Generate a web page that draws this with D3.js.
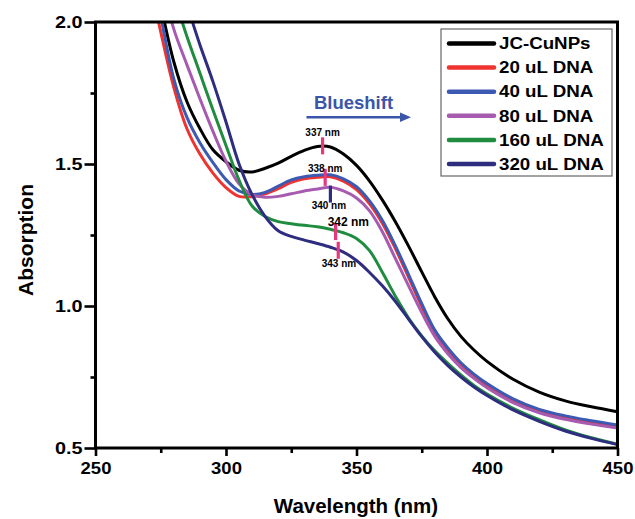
<!DOCTYPE html>
<html><head><meta charset="utf-8">
<script src="https://cdn.jsdelivr.net/npm/d3@7"></script>
<style>
body{margin:0;background:#fff}
svg text{font-family:"Liberation Sans",Arial,Helvetica,sans-serif;font-weight:bold;fill:#000}
</style>
</head><body>
<svg id="chart" width="635" height="519"></svg>
<script>
// ---------- data ----------
const wavelengths = [270,275,280,285,290,295,300,305,310,315,320,325,330,335,340,345,350,355,360,365,370,375,380,385,390,395,400,410,420,430,440,450];
const jcCuNPs  = [2.28,2.06,1.86,1.72,1.625,1.55,1.508,1.478,1.472,1.485,1.503,1.527,1.548,1.562,1.560,1.535,1.495,1.44,1.372,1.295,1.21,1.12,1.032,0.955,0.893,0.845,0.805,0.742,0.697,0.666,0.645,0.628];
const dna20    = [2.18,1.965,1.77,1.625,1.535,1.468,1.417,1.386,1.385,1.395,1.413,1.435,1.448,1.453,1.455,1.44,1.41,1.36,1.29,1.20,1.10,0.998,0.905,0.842,0.793,0.753,0.72,0.667,0.63,0.607,0.589,0.575];
const dna40    = [2.25,2.02,1.80,1.665,1.575,1.505,1.445,1.405,1.393,1.40,1.422,1.444,1.455,1.46,1.462,1.448,1.42,1.37,1.30,1.21,1.11,1.008,0.915,0.852,0.80,0.76,0.727,0.673,0.636,0.613,0.596,0.581];
const dna80    = [2.33,2.15,1.975,1.85,1.73,1.615,1.51,1.43,1.392,1.383,1.386,1.395,1.405,1.412,1.418,1.405,1.38,1.335,1.26,1.165,1.07,0.977,0.893,0.832,0.783,0.745,0.712,0.66,0.624,0.601,0.584,0.570];
const dna160   = [2.35,2.22,2.09,1.95,1.82,1.69,1.565,1.443,1.352,1.315,1.297,1.29,1.284,1.279,1.27,1.258,1.238,1.195,1.117,1.033,0.957,0.895,0.842,0.798,0.757,0.72,0.69,0.64,0.60,0.564,0.536,0.513];
const dna320   = [2.45,2.32,2.19,2.06,1.92,1.79,1.648,1.50,1.392,1.315,1.265,1.245,1.232,1.22,1.207,1.19,1.16,1.118,1.07,1.015,0.953,0.892,0.837,0.79,0.75,0.715,0.685,0.634,0.594,0.56,0.534,0.512];
const seriesNames  = ["JC-CuNPs","20 uL DNA","40 uL DNA","80 uL DNA","160 uL DNA","320 uL DNA"];
const seriesValues = [jcCuNPs, dna20, dna40, dna80, dna160, dna320];
const seriesColors = ["#000000","#ee3330","#3d5ab3","#a75bb0","#1f8c3f","#2e2d80"];

const xMajorTicks = [250,300,350,400,450];
const xMinorTicks = [275,325,375,425];
const yMajorTicks = [0.5,1.0,1.5,2.0];
const yMinorTicks = [0.75,1.25,1.75];

const peakLabels      = ["337 nm","338 nm","340 nm","342 nm","343 nm"];
const peakWavelengths = [337,338,340,342,343];
const peakAbsorption  = [1.564,1.453,1.394,1.262,1.196];
const shiftLabel = "Blueshift";

// ---------- layout ----------
const M = {left:95.5, right:617.5, top:22, bottom:448};
const svg = d3.select("#chart");
const x = d3.scaleLinear().domain([250,450]).range([M.left,M.right]);
const y = d3.scaleLinear().domain([0.5,2.0]).range([M.bottom,M.top]);

svg.append("defs").append("clipPath").attr("id","plotclip")
  .append("rect").attr("x",M.left).attr("y",M.top).attr("width",M.right-M.left).attr("height",M.bottom-M.top);

// curves
const line = d3.line().x(d=>x(d[0])).y(d=>y(d[1])).curve(d3.curveCatmullRom.alpha(0.5));
const gLines = svg.append("g").attr("clip-path","url(#plotclip)");
seriesValues.forEach((vals,i)=>{
  gLines.append("path")
    .datum(wavelengths.map((w,j)=>[w,vals[j]]))
    .attr("d",line).attr("fill","none")
    .attr("stroke",seriesColors[i]).attr("stroke-width",3)
    .attr("stroke-linejoin","round");
});

// axes
function styleAxis(g){
  g.select(".domain").remove();
  g.selectAll(".tick line").attr("stroke","#000").attr("stroke-width",2.6);
  g.selectAll(".tick text").style("font-size","16.5px").attr("fill","#000");
}
const gx = svg.append("g").attr("transform",`translate(0,${M.bottom})`)
  .call(d3.axisBottom(x).tickValues(xMajorTicks).tickSize(8).tickPadding(6).tickFormat(d3.format("d")));
styleAxis(gx);
const gxm = svg.append("g").attr("transform",`translate(0,${M.bottom})`)
  .call(d3.axisBottom(x).tickValues(xMinorTicks).tickSize(5).tickFormat(""));
styleAxis(gxm);
const gy = svg.append("g").attr("transform",`translate(${M.left},0)`)
  .call(d3.axisLeft(y).tickValues(yMajorTicks).tickSize(11).tickPadding(2).tickFormat(d3.format(".1f")));
styleAxis(gy);
const gym = svg.append("g").attr("transform",`translate(${M.left},0)`)
  .call(d3.axisLeft(y).tickValues(yMinorTicks).tickSize(5).tickFormat(""));
styleAxis(gym);

// frame
svg.append("rect").attr("x",M.left).attr("y",M.top).attr("width",M.right-M.left).attr("height",M.bottom-M.top)
  .attr("fill","none").attr("stroke","#000").attr("stroke-width",3);

// axis titles
svg.append("text").attr("x",356).attr("y",513).attr("text-anchor","middle")
  .style("font-size","20.5px").text("Wavelength (nm)");
svg.append("text").attr("transform","translate(33,240) rotate(-90)").attr("text-anchor","middle")
  .style("font-size","21px").text("Absorption");

// peak markers and labels
const labelOffsets = [[0,-10],[0,-5],[-1.5,15],[12.7,-5.8],[0.7,16.8]];
const labelSizes = [10,10,10,12,10];
const markerColors = ["#e8367f","#e8367f","#2e2d80","#e8367f","#e8367f"];
peakWavelengths.forEach((w,i)=>{
  const cx = x(w), cy = y(peakAbsorption[i]);
  svg.append("line").attr("x1",cx).attr("x2",cx).attr("y1",cy-8.5).attr("y2",cy+8.5)
    .attr("stroke",markerColors[i]).attr("stroke-width",3.2);
  svg.append("text").attr("x",cx+labelOffsets[i][0]).attr("y",cy+labelOffsets[i][1])
    .attr("text-anchor","middle").style("font-size",labelSizes[i]+"px").attr("fill","#111")
    .text(peakLabels[i]);
});

// blueshift annotation
const blue = "#3b55a8";
svg.append("text").attr("x",353.5).attr("y",108.5).attr("text-anchor","middle")
  .style("font-size","18.5px").style("fill",blue).text(shiftLabel);
svg.append("line").attr("x1",306.5).attr("x2",401).attr("y1",117.3).attr("y2",117.3)
  .attr("stroke",blue).attr("stroke-width",2.4);
svg.append("path").attr("d","M400,112.5 L411,117.3 L400,122.1 Z").attr("fill",blue);

// legend
const lg = svg.append("g");
lg.append("rect").attr("x",441).attr("y",29).attr("width",171).attr("height",147)
  .attr("fill","#fff").attr("stroke","#666").attr("stroke-width",1.2);
seriesNames.forEach((n,i)=>{
  const yy = 43.5 + i*24.1;
  lg.append("line").attr("x1",449).attr("x2",494).attr("y1",yy).attr("y2",yy)
    .attr("stroke",seriesColors[i]).attr("stroke-width",4.5).attr("stroke-linecap","round");
  lg.append("text").attr("x",499).attr("y",yy).attr("dy","0.36em")
    .style("font-size","16px").text(n);
});

// widen tick labels and legend texts to match the reference's wide bold face
function widen(sel, f){
  sel.each(function(){
    const l = this.getComputedTextLength();
    this.setAttribute("textLength", (l*f).toFixed(2));
    this.setAttribute("lengthAdjust","spacingAndGlyphs");
  });
}
widen(gx.selectAll(".tick text"),1.12);
widen(gy.selectAll(".tick text"),1.2);
widen(lg.selectAll("text"),1.17);
</script>
</body></html>
